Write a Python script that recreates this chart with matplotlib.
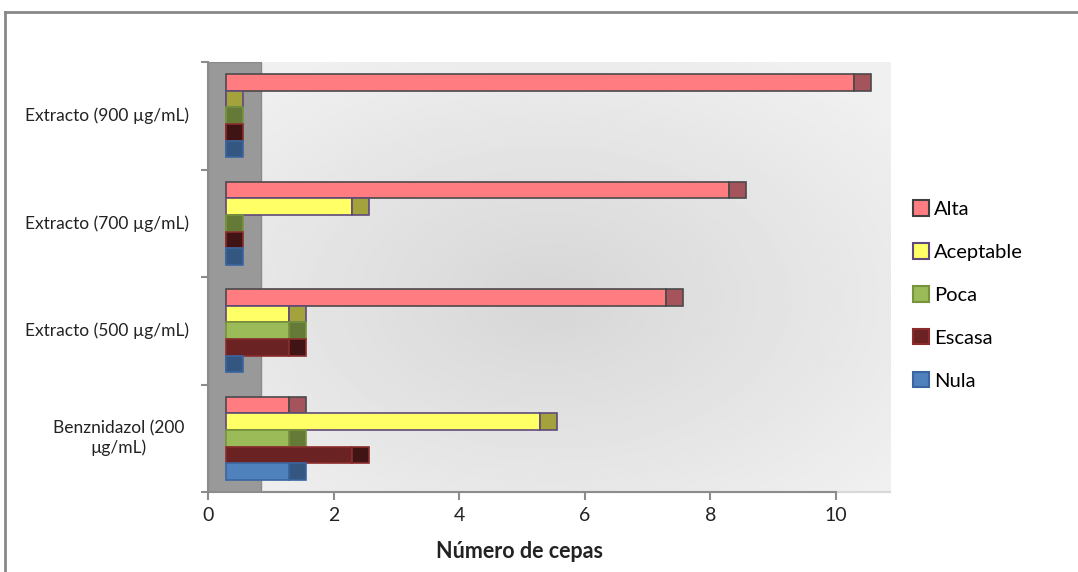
import numpy as np
import matplotlib.pyplot as plt
from matplotlib.patches import Rectangle, Patch
from matplotlib.lines import Line2D

plt.rcParams['font.family'] = ['Lato', 'DejaVu Sans']

# datos
categorias = ['Benznidazol (200\nµg/mL)', 'Extracto (500 µg/mL)',
              'Extracto (700 µg/mL)', 'Extracto (900 µg/mL)']
series = ['Alta', 'Aceptable', 'Poca', 'Escasa', 'Nula']
alta = [1, 7, 8, 10]
aceptable = [5, 1, 2, 0]
poca = [1, 1, 0, 0]
escasa = [2, 1, 0, 0]
nula = [1, 0, 0, 0]
valores = [alta, aceptable, poca, escasa, nula]
ticks_x = [0, 2, 4, 6, 8, 10]

# estilos (frente, lado, borde)
frente = ['#ff7c80', '#ffff66', '#9bbb59', '#6a2222', '#4f81bd']
lado = ['#a4545a', '#a4a23c', '#667a37', '#401414', '#335780']
borde = ['#4a4a4a', '#604a7b', '#77933c', '#8a2c2c', '#3a65a0']

W, H = 1078, 572
fig = plt.figure(figsize=(W / 100, H / 100), dpi=100)
ax = fig.add_axes([208 / W, 1 - 492 / H, (890 - 208) / W, (492 - 62) / H])

xmax = 10.86
ax.set_xlim(0, xmax)
ax.set_ylim(-0.5, 3.5)

# fondo con degradado radial
yy, xx = np.mgrid[0:1:200j, 0:1:300j]
r = np.sqrt(((xx - 0.5) / 0.65) ** 2 + ((yy - 0.45) / 0.65) ** 2)
grad = np.clip(r, 0, 1)
ax.imshow(grad, extent=(0, 1, 0, 1), transform=ax.transAxes, cmap='gray',
          vmin=-8.4, vmax=1.6, aspect='auto', zorder=0, origin='lower')

# pared lateral
pared = 0.845
ax.add_patch(Rectangle((0, -0.5), pared, 4, facecolor='#999999',
                       edgecolor='#8a8a8a', lw=1, zorder=1))
ax.plot([pared, xmax], [-0.5, -0.5], color='#d8d8d8', lw=1.5, zorder=1,
        clip_on=False)

# barras
h = 0.154
d0 = 0.29
prof = 0.27
for i, (vals, fc, sc, ec) in enumerate(zip(valores, frente, lado, borde)):
    y = np.arange(len(categorias)) + (2 - i) * h
    vals = np.array(vals)
    ax.barh(y, vals, left=d0, height=h, color=fc, edgecolor=ec, lw=1.2,
            zorder=3)
    ax.barh(y, prof, left=d0 + vals, height=h, color=sc, edgecolor=ec,
            lw=1.2, zorder=3)

# ejes
for s in ['top', 'right']:
    ax.spines[s].set_visible(False)
ax.spines['left'].set_color('#8c8c8c')
ax.spines['bottom'].set_color('#8c8c8c')
ax.spines['left'].set_linewidth(1.5)
ax.spines['bottom'].set_linewidth(1.5)
ax.spines['bottom'].set_bounds(0, 10)
ax.set_xticks(ticks_x)
ax.set_xticklabels([str(t) for t in ticks_x], fontsize=14, color='#222222')
ax.tick_params(axis='x', length=6, width=1.5, color='#8c8c8c', pad=5)
ax.set_yticks([-0.5, 0.5, 1.5, 2.5, 3.5])
ax.set_yticklabels([])
ax.tick_params(axis='y', length=5, width=1.5, color='#8c8c8c')
for k, cat in enumerate(categorias):
    if k == 0:
        ax.text(-1.42, k, cat, ha='center', va='center', fontsize=12.5,
                color='#222222', multialignment='center')
    else:
        ax.text(-0.3, k, cat, ha='right', va='center', fontsize=12.5,
                color='#222222')

fig.text(520 / W, 1 - 551 / H, 'Número de cepas', ha='center', va='center',
         fontsize=15.5, fontweight='bold', color='#222222')

# leyenda
handles = [Patch(facecolor=fc, edgecolor=ec, lw=1.5)
           for fc, ec in zip(frente, ['#404040', '#604a7b', '#77933c',
                                      '#8a2c2c', '#3a65a0'])]
fig.legend(handles, series, loc='center left',
           bbox_to_anchor=(895 / W, 1 - 295 / H), frameon=False,
           fontsize=14.5, handlelength=0.8, handleheight=0.8,
           handletextpad=0.25, labelspacing=1.25)

# marco exterior
fig.add_artist(Line2D([5 / W, 1], [1 - 12 / H, 1 - 12 / H], color='#888888',
                      lw=2, transform=fig.transFigure))
fig.add_artist(Line2D([5 / W, 5 / W], [0, 1 - 12 / H], color='#888888',
                      lw=2, transform=fig.transFigure))

fig.savefig('out.png', dpi=100)
